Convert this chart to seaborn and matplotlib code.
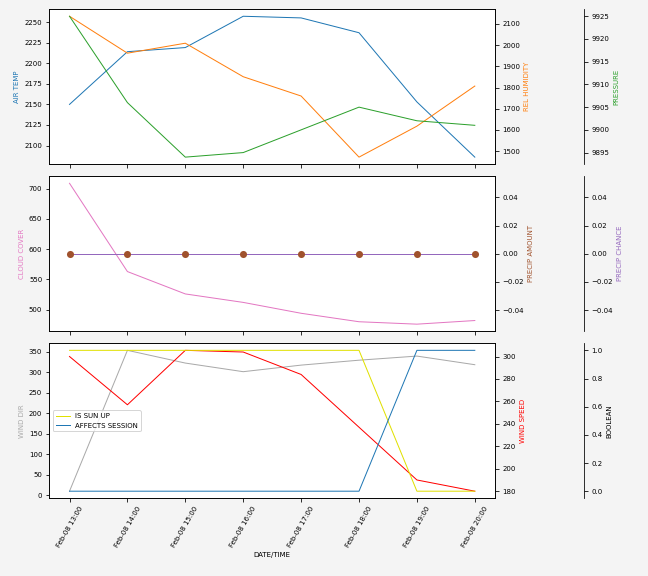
import matplotlib
matplotlib.use('Agg')
import matplotlib.pyplot as plt
import matplotlib.dates as mdates
import seaborn as sns
import pandas as pd

# dados
horas = pd.date_range('2024-02-08 13:00', periods=8, freq='h')
air_temp = [2150, 2214, 2219, 2257, 2255, 2237, 2153, 2086]
rel_humidity = [2136, 1962, 2009, 1851, 1760, 1472, 1618, 1807]
pressure = [9925.0, 9906.0, 9894.0, 9895.0, 9900.0, 9905.0, 9902.0, 9901.0]
cloud_cover = [709, 563, 526, 512, 494, 480, 476, 482]
precip_amount = [0, 0, 0, 0, 0, 0, 0, 0]
precip_chance = [0, 0, 0, 0, 0, 0, 0, 0]
wind_dir = [10, 353, 322, 301, 317, 329, 339, 318]
wind_speed = [300, 257, 305.5, 304, 284, 237, 190, 180]
is_sun_up = [1, 1, 1, 1, 1, 1, 0, 0]
affects_session = [0, 0, 0, 0, 0, 0, 1, 1]

df = pd.DataFrame({'time': horas, 'air_temp': air_temp, 'rel_humidity': rel_humidity,
                   'pressure': pressure, 'cloud_cover': cloud_cover,
                   'precip_amount': precip_amount, 'precip_chance': precip_chance,
                   'wind_dir': wind_dir, 'wind_speed': wind_speed,
                   'is_sun_up': is_sun_up, 'affects_session': affects_session})

plt.rcParams['font.size'] = 7
plt.rcParams['figure.facecolor'] = '#f4f4f4'

fig, axs = plt.subplots(3, 1, figsize=(9, 8), dpi=72, sharex=True)
plt.subplots_adjust(left=0.076, right=0.764, top=0.984, bottom=0.135, hspace=0.078)


def eixos(ax):
    p1 = ax.twinx()
    p2 = ax.twinx()
    p2.spines['right'].set_position(('axes', 1.2))
    for s in ['top', 'bottom', 'left']:
        p2.spines[s].set_visible(False)
    return p1, p2


lw = 1

# Painel 1 - temperatura / umidade / pressao
ax = axs[0]
p1, p2 = eixos(ax)
sns.lineplot(data=df, x='time', y='air_temp', ax=ax, color='tab:blue', lw=lw)
sns.lineplot(data=df, x='time', y='rel_humidity', ax=p1, color='tab:orange', lw=lw)
sns.lineplot(data=df, x='time', y='pressure', ax=p2, color='tab:green', lw=lw)
ax.set_ylabel('AIR TEMP', color='tab:blue')
p1.set_ylabel('REL HUMIDITY', color='tab:orange')
p2.set_ylabel('PRESSURE', color='tab:green')
p2.set_yticks([9895, 9900, 9905, 9910, 9915, 9920, 9925])

# Painel 2 - nuvens / precipitacao
ax = axs[1]
p1, p2 = eixos(ax)
sns.lineplot(data=df, x='time', y='cloud_cover', ax=ax, color='tab:pink', lw=lw)
sns.scatterplot(data=df, x='time', y='precip_amount', ax=p1, color='sienna', s=50,
                linewidth=0)
sns.lineplot(data=df, x='time', y='precip_chance', ax=p2, color='tab:purple', lw=lw)
p1.set_zorder(p2.get_zorder() + 1)
ax.set_ylabel('CLOUD COVER', color='tab:pink')
p1.set_ylabel('PRECIP AMOUNT', color='sienna')
p2.set_ylabel('PRECIP CHANCE', color='tab:purple')
p1.set_ylim(-0.055, 0.055)
p2.set_ylim(-0.055, 0.055)

# Painel 3 - vento / booleanos
ax = axs[2]
p1, p2 = eixos(ax)
sns.lineplot(data=df, x='time', y='wind_dir', ax=ax, color='darkgray', lw=lw)
sns.lineplot(data=df, x='time', y='wind_speed', ax=p1, color='red', lw=lw)
sns.lineplot(data=df, x='time', y='is_sun_up', ax=p2, color='#e0e000', lw=lw)
linha_sol = p2.lines[-1]
sns.lineplot(data=df, x='time', y='affects_session', ax=p2, color='tab:blue', lw=lw)
linha_sessao = p2.lines[-1]
ax.set_ylabel('WIND DIR', color='darkgray')
p1.set_ylabel('WIND SPEED', color='red')
p2.set_ylabel('BOOLEAN', color='black')
p2.legend([linha_sol, linha_sessao], ['IS SUN UP', 'AFFECTS SESSION'],
          loc='center left', fontsize=7)

for a in axs:
    a.set_xlabel('')
axs[2].set_xlabel('DATE/TIME')
axs[2].xaxis.set_major_formatter(mdates.DateFormatter('%b-%d %H:%M'))
axs[2].set_xticks(horas)
plt.setp(axs[2].get_xticklabels(), rotation=60)

plt.savefig('out.png', dpi=72)
